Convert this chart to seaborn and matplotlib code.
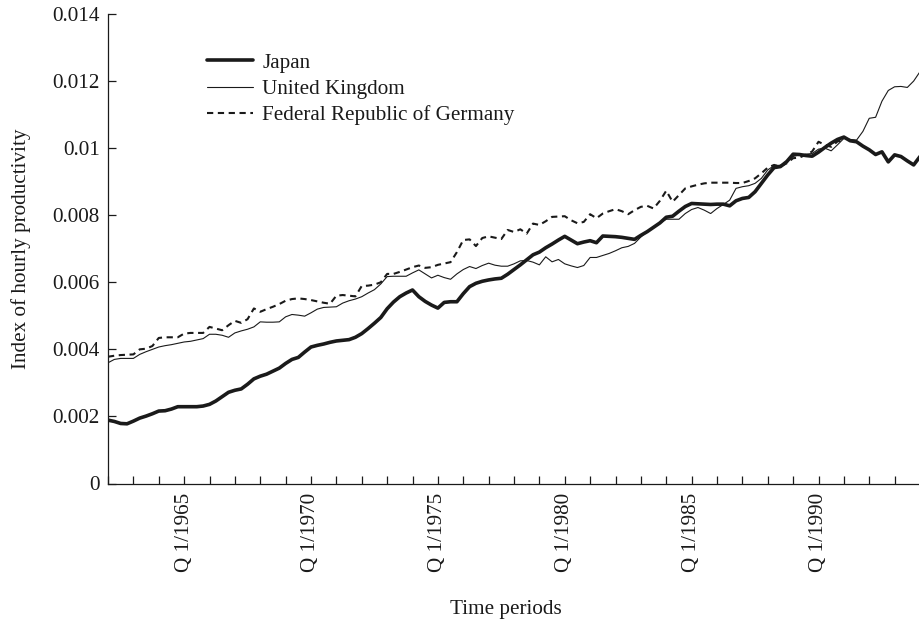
import numpy as np
import pandas as pd
import matplotlib
matplotlib.use("Agg")
import matplotlib.pyplot as plt
import seaborn as sns

# ---- data (quarterly, Q1/1962 ... Q1/1994) ----
japan = [
    0.00189, 0.00185, 0.00179, 0.00178,  # 1962
    0.00186, 0.00195, 0.00201, 0.00208,  # 1963
    0.00216, 0.00217, 0.00222, 0.00229,  # 1964
    0.00229, 0.00229, 0.00229, 0.00231,  # 1965
    0.00236, 0.00246, 0.00259, 0.00272,  # 1966
    0.00278, 0.00282, 0.00296, 0.00312,  # 1967
    0.00320, 0.00326, 0.00335, 0.00344,  # 1968
    0.00358, 0.00370, 0.00376, 0.00392,  # 1969
    0.00407, 0.00412, 0.00416, 0.00421,  # 1970
    0.00425, 0.00427, 0.00429, 0.00436,  # 1971
    0.00447, 0.00462, 0.00478, 0.00495,  # 1972
    0.00521, 0.00541, 0.00557, 0.00568,  # 1973
    0.00577, 0.00557, 0.00543, 0.00532,  # 1974
    0.00523, 0.00540, 0.00542, 0.00542,  # 1975
    0.00566, 0.00587, 0.00597, 0.00603,  # 1976
    0.00607, 0.00610, 0.00612, 0.00624,  # 1977
    0.00638, 0.00652, 0.00667, 0.00682,  # 1978
    0.00690, 0.00703, 0.00714, 0.00726,  # 1979
    0.00737, 0.00726, 0.00715, 0.00720,  # 1980
    0.00724, 0.00718, 0.00738, 0.00737,  # 1981
    0.00736, 0.00734, 0.00731, 0.00728,  # 1982
    0.00740, 0.00751, 0.00764, 0.00777,  # 1983
    0.00794, 0.00797, 0.00812, 0.00826,  # 1984
    0.00835, 0.00834, 0.00833, 0.00832,  # 1985
    0.00833, 0.00833, 0.00828, 0.00843,  # 1986
    0.00850, 0.00853, 0.00870, 0.00895,  # 1987
    0.00920, 0.00942, 0.00945, 0.00960,  # 1988
    0.00982, 0.00981, 0.00978, 0.00976,  # 1989
    0.00988, 0.01002, 0.01015, 0.01026,  # 1990
    0.01033, 0.01022, 0.01019, 0.01006,  # 1991
    0.00995, 0.00981, 0.00989, 0.00959,  # 1992
    0.00980, 0.00975, 0.00962, 0.00950,  # 1993
    0.00975,                             # 1994
]

uk = [
    0.00360, 0.00370, 0.00373, 0.00373,  # 1962
    0.00373, 0.00385, 0.00393, 0.00400,  # 1963
    0.00407, 0.00411, 0.00414, 0.00418,  # 1964
    0.00422, 0.00424, 0.00428, 0.00432,  # 1965
    0.00445, 0.00445, 0.00442, 0.00436,  # 1966
    0.00449, 0.00455, 0.00460, 0.00467,  # 1967
    0.00482, 0.00481, 0.00481, 0.00482,  # 1968
    0.00497, 0.00504, 0.00502, 0.00499,  # 1969
    0.00509, 0.00520, 0.00525, 0.00526,  # 1970
    0.00527, 0.00538, 0.00545, 0.00550,  # 1971
    0.00557, 0.00568, 0.00578, 0.00595,  # 1972
    0.00617, 0.00618, 0.00618, 0.00618,  # 1973
    0.00628, 0.00637, 0.00625, 0.00613,  # 1974
    0.00621, 0.00614, 0.00609, 0.00625,  # 1975
    0.00638, 0.00647, 0.00641, 0.00650,  # 1976
    0.00657, 0.00651, 0.00648, 0.00648,  # 1977
    0.00655, 0.00664, 0.00665, 0.00660,  # 1978
    0.00652, 0.00676, 0.00661, 0.00668,  # 1979
    0.00655, 0.00649, 0.00644, 0.00650,  # 1980
    0.00674, 0.00674, 0.00680, 0.00686,  # 1981
    0.00694, 0.00703, 0.00707, 0.00716,  # 1982
    0.00735, 0.00752, 0.00765, 0.00776,  # 1983
    0.00788, 0.00788, 0.00788, 0.00805,  # 1984
    0.00817, 0.00823, 0.00815, 0.00805,  # 1985
    0.00820, 0.00832, 0.00845, 0.00880,  # 1986
    0.00885, 0.00888, 0.00895, 0.00910,  # 1987
    0.00935, 0.00948, 0.00949, 0.00960,  # 1988
    0.00975, 0.00980, 0.00982, 0.00984,  # 1989
    0.00997, 0.01000, 0.00992, 0.01010,  # 1990
    0.01029, 0.01026, 0.01024, 0.01050,  # 1991
    0.01089, 0.01092, 0.01140, 0.01172,  # 1992
    0.01183, 0.01184, 0.01181, 0.01200,  # 1993
    0.01228,                             # 1994
]

germany = [
    0.00378, 0.00381, 0.00383, 0.00384,  # 1962
    0.00385, 0.00400, 0.00402, 0.00410,  # 1963
    0.00434, 0.00436, 0.00436, 0.00436,  # 1964
    0.00447, 0.00449, 0.00449, 0.00449,  # 1965
    0.00467, 0.00462, 0.00457, 0.00472,  # 1966
    0.00485, 0.00479, 0.00490, 0.00522,  # 1967
    0.00512, 0.00520, 0.00527, 0.00535,  # 1968
    0.00545, 0.00550, 0.00552, 0.00550,  # 1969
    0.00547, 0.00543, 0.00539, 0.00536,  # 1970
    0.00560, 0.00562, 0.00560, 0.00558,  # 1971
    0.00589, 0.00590, 0.00593, 0.00600,  # 1972
    0.00625, 0.00625, 0.00631, 0.00638,  # 1973
    0.00645, 0.00650, 0.00643, 0.00645,  # 1974
    0.00652, 0.00656, 0.00660, 0.00690,  # 1975
    0.00726, 0.00728, 0.00708, 0.00732,  # 1976
    0.00737, 0.00733, 0.00729, 0.00756,  # 1977
    0.00750, 0.00758, 0.00745, 0.00775,  # 1978
    0.00771, 0.00782, 0.00795, 0.00796,  # 1979
    0.00797, 0.00785, 0.00776, 0.00780,  # 1980
    0.00803, 0.00791, 0.00805, 0.00812,  # 1981
    0.00818, 0.00812, 0.00803, 0.00815,  # 1982
    0.00825, 0.00828, 0.00820, 0.00843,  # 1983
    0.00873, 0.00840, 0.00860, 0.00880,  # 1984
    0.00886, 0.00891, 0.00895, 0.00897,  # 1985
    0.00897, 0.00897, 0.00897, 0.00896,  # 1986
    0.00896, 0.00902, 0.00910, 0.00925,  # 1987
    0.00942, 0.00950, 0.00945, 0.00955,  # 1988
    0.00970, 0.00972, 0.00980, 0.00990,  # 1989
    0.01019, 0.01010, 0.01004, 0.01020,  # 1990
    0.01024,                             # 1991
]

series_names = ["Japan", "United Kingdom", "Federal Republic of Germany"]
tick_years = [1965, 1970, 1975, 1980, 1985, 1990]
tick_labels = ["Q 1/%d" % y for y in tick_years]
y_ticks = [0, 0.002, 0.004, 0.006, 0.008, 0.01, 0.012, 0.014]
y_tick_labels = ["0", "0.002", "0.004", "0.006", "0.008", "0.01", "0.012", "0.014"]

start_year = 1962
def quarters(n):
    return start_year + np.arange(n) * 0.25

frames = []
for name, vals in zip(series_names, [japan, uk, germany]):
    frames.append(pd.DataFrame({"t": quarters(len(vals)), "v": vals, "country": name}))
df = pd.concat(frames, ignore_index=True)

# ---- style ----
sns.set_style("ticks")
plt.rcParams["font.family"] = ["Liberation Serif", "DejaVu Serif"]
FS = 15.2
ink = "#1a1a1a"

fig = plt.figure(figsize=(9.2, 6.23), dpi=100)
ax = fig.add_axes([108 / 920, 1 - 483.5 / 623, 1 - 108 / 920, (483.5 - 14) / 623])

styles = {
    "Japan": dict(linewidth=2.6, linestyle="-"),
    "United Kingdom": dict(linewidth=0.8, linestyle="-"),
    "Federal Republic of Germany": dict(linewidth=1.5, linestyle=(0, (3.0, 2.2))),
}
for name in series_names:
    sub = df[df["country"] == name]
    sns.lineplot(data=sub, x="t", y="v", ax=ax, color=ink, label=name,
                 estimator=None, sort=False, **styles[name])

ax.set_xlim(1962, 1994)
ax.set_ylim(0, 0.014)
ax.set_xticks(np.arange(1962, 1995, 1))
ax.set_xticklabels(["Q 1/%d" % y if y in tick_years else "" for y in range(1962, 1995)],
                   rotation=90, fontsize=FS, va="top", ha="center")
ax.set_yticks(y_ticks)
ax.set_yticklabels(y_tick_labels, fontsize=FS)
ax.tick_params(axis="both", direction="in", length=6, width=0.9, color=ink, labelcolor=ink)
ax.tick_params(axis="x", pad=7)
ax.tick_params(axis="y", pad=6)

for s in ["top", "right"]:
    ax.spines[s].set_visible(False)
for s in ["left", "bottom"]:
    ax.spines[s].set_linewidth(0.9)
    ax.spines[s].set_color(ink)

ax.set_xlabel("Time periods", fontsize=FS, color=ink, labelpad=20)
ax.set_ylabel("Index of hourly productivity", fontsize=FS, color=ink, labelpad=15)

leg = ax.legend(loc="upper left", bbox_to_anchor=(207 / 920, 1 - 53 / 623),
                bbox_transform=fig.transFigure, frameon=False, fontsize=FS,
                handlelength=2.2, handletextpad=0.42, labelspacing=0.3,
                borderpad=0, borderaxespad=0)
for t in leg.get_texts():
    t.set_color(ink)

ax.xaxis.label.set_position((0.49, 0))
fig.savefig("out.png", dpi=100)
